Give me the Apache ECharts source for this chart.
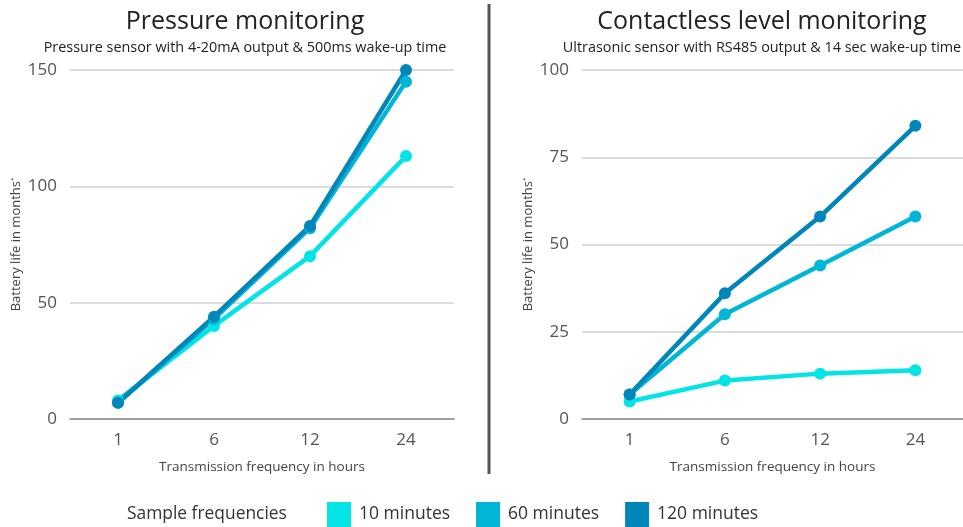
<!DOCTYPE html>
<html>
<head>
<meta charset="utf-8">
<script src="https://cdn.jsdelivr.net/npm/echarts@6/dist/echarts.min.js"></script>
<style>
html,body{margin:0;padding:0;background:#fff;}
#c{width:963px;height:527px;}
</style>
</head>
<body>
<div id="c"></div>
<script>
const categories = ['1', '6', '12', '24'];
const seriesNames = ['10 minutes', '60 minutes', '120 minutes'];
const pressure10 = [8, 40, 70, 113];
const pressure60 = [7, 43, 82, 145];
const pressure120 = [7, 44, 83, 150];
const level10 = [5, 11, 13, 14];
const level60 = [7, 30, 44, 58];
const level120 = [7, 36, 58, 84];
const pressureTicks = [0, 50, 100, 150];
const levelTicks = [0, 25, 50, 75, 100];

const colors = ['#03e4e6', '#00b6d7', '#0086b8'];
const FONT = '"Open Sans", "Noto Sans", sans-serif';

const chart = echarts.init(document.getElementById('c'), null, {renderer: 'canvas'});

function xAxis(gi) {
  return {
    type: 'category', gridIndex: gi, data: categories, boundaryGap: true,
    name: 'Transmission frequency in hours', nameLocation: 'middle', nameGap: 41,
    nameTextStyle: {fontFamily: FONT, fontSize: 13.5, color: '#444'},
    axisLine: {show: true, lineStyle: {color: '#8a8a8a', width: 1.5}},
    axisTick: {show: false},
    axisLabel: {fontFamily: FONT, fontSize: 17, color: '#555', margin: 13}
  };
}
function yAxis(gi, ticks) {
  return {
    type: 'value', gridIndex: gi, min: ticks[0], max: ticks[ticks.length - 1],
    interval: ticks[1] - ticks[0],
    name: '{a|Battery life in months}{s|*}', nameLocation: 'middle', nameGap: 47,
    nameTextStyle: {
      rich: {
        a: {fontFamily: FONT, fontSize: 13, color: '#444'},
        s: {fontFamily: FONT, fontSize: 6, color: '#444', verticalAlign: 'top'}
      }
    },
    axisLine: {show: false}, axisTick: {show: false},
    splitLine: {lineStyle: {color: '#cfcfcf', width: 1.5}},
    axisLabel: {fontFamily: FONT, fontSize: 17, color: '#555', margin: 13}
  };
}
function line(name, data, gi, ci) {
  return {
    name: name, type: 'line', xAxisIndex: gi, yAxisIndex: gi, data: data,
    symbol: 'circle', symbolSize: 12, color: colors[ci],
    lineStyle: {width: 4.5, color: colors[ci]},
    itemStyle: {color: colors[ci]},
    emphasis: {disabled: true}, animation: false
  };
}

chart.setOption({
  animation: false,
  backgroundColor: '#fff',
  title: [
    {text: 'Pressure monitoring', subtext: 'Pressure sensor with 4-20mA output & 500ms wake-up time',
     left: 240, top: 4, textAlign: 'center', itemGap: 7,
     textStyle: {fontFamily: FONT, fontSize: 25, fontWeight: 'normal', color: '#222'},
     subtextStyle: {fontFamily: FONT, fontSize: 14.4, color: '#222'}},
    {text: 'Contactless level monitoring', subtext: 'Ultrasonic sensor with RS485 output & 14 sec wake-up time',
     left: 757, top: 4, textAlign: 'center', itemGap: 7,
     textStyle: {fontFamily: FONT, fontSize: 25, fontWeight: 'normal', color: '#222'},
     subtextStyle: {fontFamily: FONT, fontSize: 14.4, color: '#222'}}
  ],
  grid: [
    {left: 70, top: 70, width: 384, height: 349},
    {left: 582, top: 70, width: 384, height: 349}
  ],
  xAxis: [xAxis(0), xAxis(1)],
  yAxis: [yAxis(0, pressureTicks), yAxis(1, levelTicks)],
  legend: {
    data: seriesNames, left: 322, top: 497, icon: 'rect',
    itemWidth: 24, itemHeight: 25, itemGap: 26,
    textStyle: {fontFamily: FONT, fontSize: 17.5, color: '#333', padding: [3, 0, 0, 3]},
    selectedMode: false
  },
  graphic: [
    {type: 'text', left: 127, top: 506,
     style: {text: 'Sample frequencies', font: '17.4px ' + FONT, fill: '#333'}},
    {type: 'line', shape: {x1: 489, y1: 4, x2: 489, y2: 474},
     style: {stroke: '#555', lineWidth: 3}}
  ],
  series: [
    line(seriesNames[0], pressure10, 0, 0),
    line(seriesNames[1], pressure60, 0, 1),
    line(seriesNames[2], pressure120, 0, 2),
    line(seriesNames[0], level10, 1, 0),
    line(seriesNames[1], level60, 1, 1),
    line(seriesNames[2], level120, 1, 2)
  ]
});
</script>
</body>
</html>
